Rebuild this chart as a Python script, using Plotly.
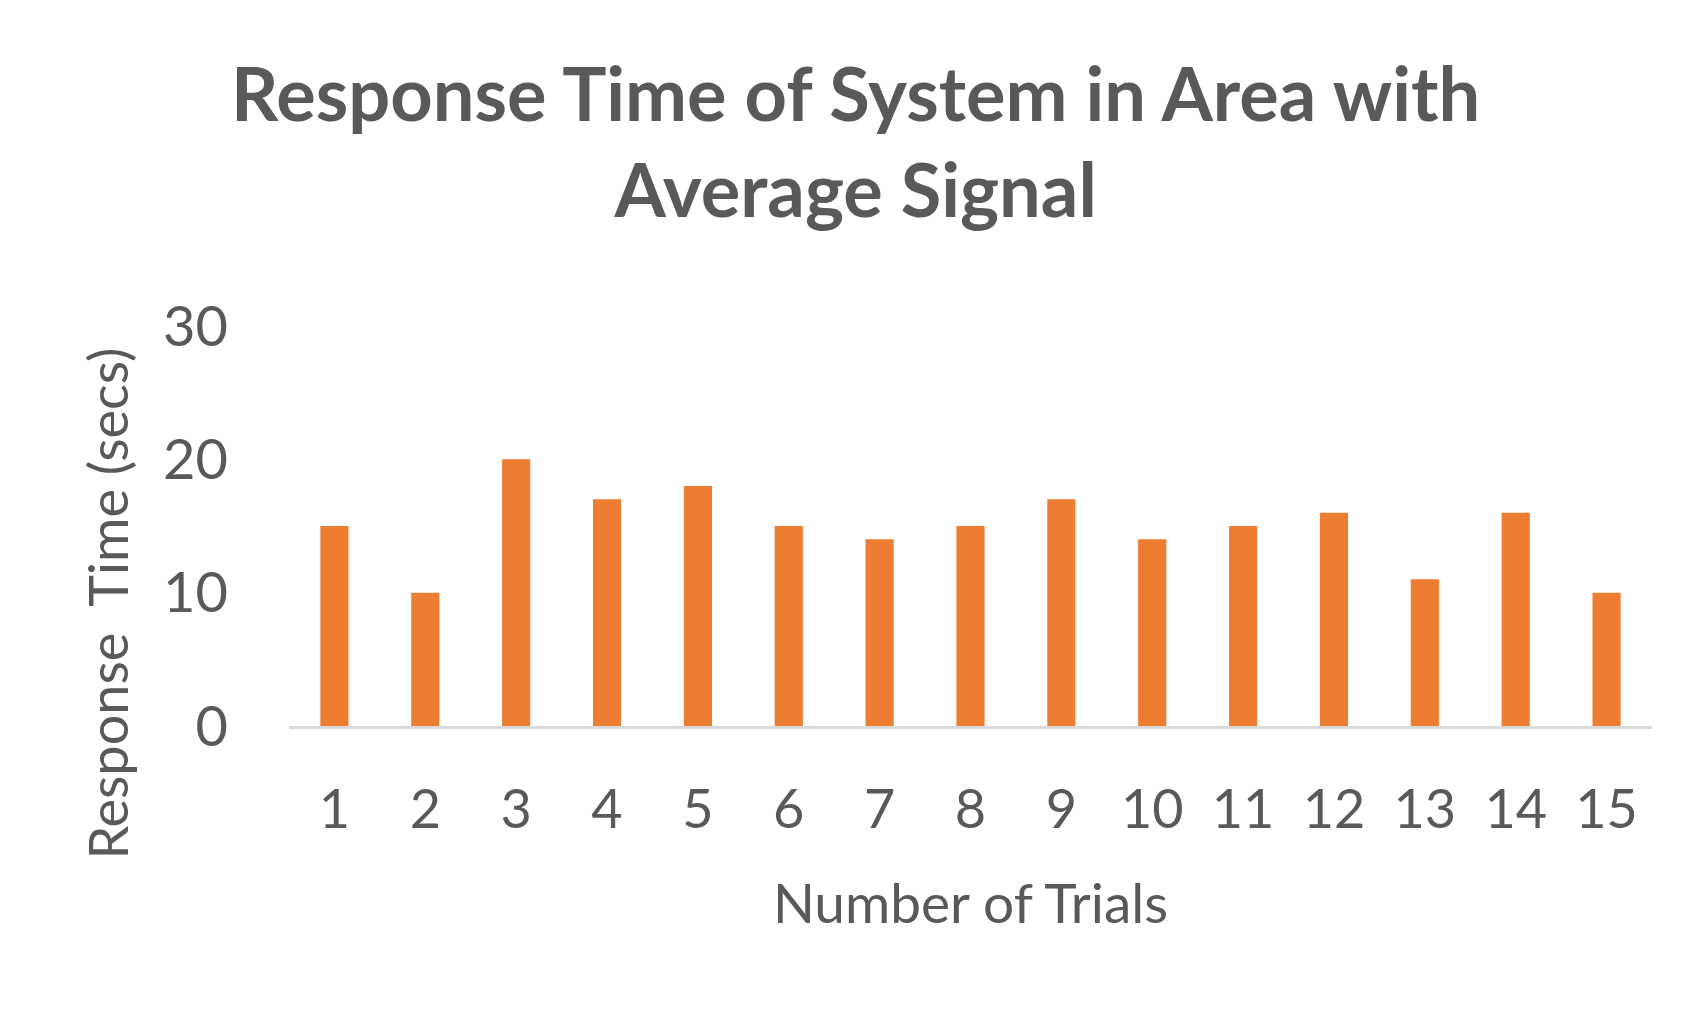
import plotly.graph_objects as go

# Data
trials = [str(i) for i in range(1, 16)]
response_secs = [15, 10, 20, 17, 18, 15, 14, 15, 17, 14, 15, 16, 11, 16, 10]
y_ticks = [0, 10, 20, 30]

grey = '#595959'

fig = go.Figure(go.Bar(x=trials, y=response_secs, marker_color='#ED7D31',
                       marker_line_width=0, width=0.31))

fig.update_layout(
    width=1692, height=1010,
    margin=dict(l=281, r=48, t=318, b=292),
    plot_bgcolor='white', paper_bgcolor='white',
    font=dict(family='Lato', color=grey),
    showlegend=False,
    title=dict(text='<b>Response Time of System in Area with<br>Average Signal</b>',
               x=0.501, xanchor='center', y=0.888, yanchor='bottom',
               font=dict(size=74, color=grey)),
    xaxis=dict(type='category', showgrid=False, showline=True, linecolor='#d9d9d9',
               linewidth=3, ticks='', tickfont=dict(size=54), ticklabelstandoff=34,
               title=dict(text='Number of Trials', font=dict(size=55), standoff=46)),
    yaxis=dict(range=[0, 30], tickvals=y_ticks, showgrid=False, zeroline=False,
               showline=False, ticks='', tickfont=dict(size=56), ticklabelstandoff=60),
)

# y-axis title sits lower than the plot centre in the original, so place it by hand
fig.add_annotation(text='Response  Time (secs)', textangle=-90, showarrow=False,
                   xref='paper', yref='paper', x=0, y=0.306, xshift=-181,
                   xanchor='center', yanchor='middle', font=dict(size=54, color=grey))

fig.write_html("out.html")
